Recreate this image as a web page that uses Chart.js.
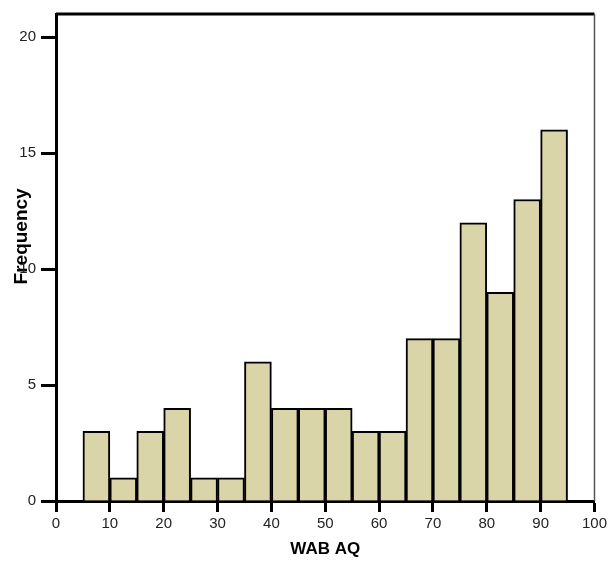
<!DOCTYPE html>
<html>
<head>
<meta charset="utf-8">
<script src="https://cdn.jsdelivr.net/npm/chart.js@4"></script>
<style>
  html, body { margin: 0; padding: 0; background: #fff; }
  #wrap { width: 610px; height: 563px; }
</style>
</head>
<body>
<div id="wrap"><canvas id="chart" width="610" height="563"></canvas></div>
<script>
// bin centres of the WAB AQ histogram (bins 5 wide)
const binCenters = [7.5, 12.5, 17.5, 22.5, 27.5, 32.5, 37.5, 42.5, 47.5, 52.5, 57.5, 62.5, 67.5, 72.5, 77.5, 82.5, 87.5, 92.5];
const frequencies = [3, 1, 3, 4, 1, 1, 6, 4, 4, 4, 3, 3, 7, 7, 12, 9, 13, 16];
const xTicks = [0, 10, 20, 30, 40, 50, 60, 70, 80, 90, 100];
const yTicks = [0, 5, 10, 15, 20];

const frame = {
    id: "frame",
    afterDraw(chart) {
        const { ctx, chartArea } = chart;
        ctx.save();
        ctx.strokeStyle = "#000";
        ctx.lineWidth = 3;
        ctx.beginPath();
        ctx.moveTo(chartArea.left, chartArea.top);
        ctx.lineTo(chartArea.right, chartArea.top);
        ctx.stroke();
        ctx.strokeStyle = "#555";
        ctx.lineWidth = 1.5;
        ctx.beginPath();
        ctx.moveTo(chartArea.right, chartArea.top);
        ctx.lineTo(chartArea.right, chartArea.bottom);
        ctx.stroke();
        ctx.restore();
    }
};

new Chart(document.getElementById("chart"), {
    type: "bar",
    data: {
        datasets: [{
            label: "Frequency",
            data: binCenters.map((x, i) => ({ x: x, y: frequencies[i] })),
            backgroundColor: "#dad4a9",
            borderColor: "#000",
            borderWidth: 2,
            barPercentage: 1,
            categoryPercentage: 1,
        }]
    },
    plugins: [frame],
    options: {
        responsive: false,
        animation: false,
        layout: { padding: { left: 0, top: 8, right: 12, bottom: 0 } },
        plugins: {
            legend: { display: false },
            tooltip: { enabled: false },
        },
        scales: {
            x: {
                type: "linear",
                min: 0,
                max: 100,
                offset: false,
                afterBuildTicks: (s) => { s.ticks = xTicks.map(v => ({ value: v })); },
                afterFit: (s) => { s.height = 62; },
                grid: { offset: false, drawOnChartArea: false, tickLength: 11, tickWidth: 3, tickColor: "#000" },
                border: { color: "#000", width: 3 },
                ticks: { color: "#222", font: { family: "Liberation Sans, Arial", size: 15 }, padding: 3, maxRotation: 0 },
                title: {
                    display: true,
                    text: "WAB AQ",
                    color: "#000",
                    font: { family: "Liberation Sans, Arial", size: 17, weight: "bold" },
                    padding: { top: 0, bottom: 3 },
                },
            },
            y: {
                min: 0,
                max: 21,
                afterBuildTicks: (s) => { s.ticks = yTicks.map(v => ({ value: v })); },
                afterFit: (s) => { s.width = 56; },
                grid: { drawOnChartArea: false, tickLength: 15, tickWidth: 3, tickColor: "#000" },
                border: { color: "#000", width: 3 },
                ticks: { color: "#222", font: { family: "Liberation Sans, Arial", size: 15 }, padding: 5 },
                title: {
                    display: true,
                    text: "        Frequency",
                    color: "#000",
                    font: { family: "Liberation Sans, Arial", size: 19, weight: "bold" },
                    padding: { top: 10, bottom: 0 },
                },
            },
        },
    },
});
</script>
</body>
</html>
